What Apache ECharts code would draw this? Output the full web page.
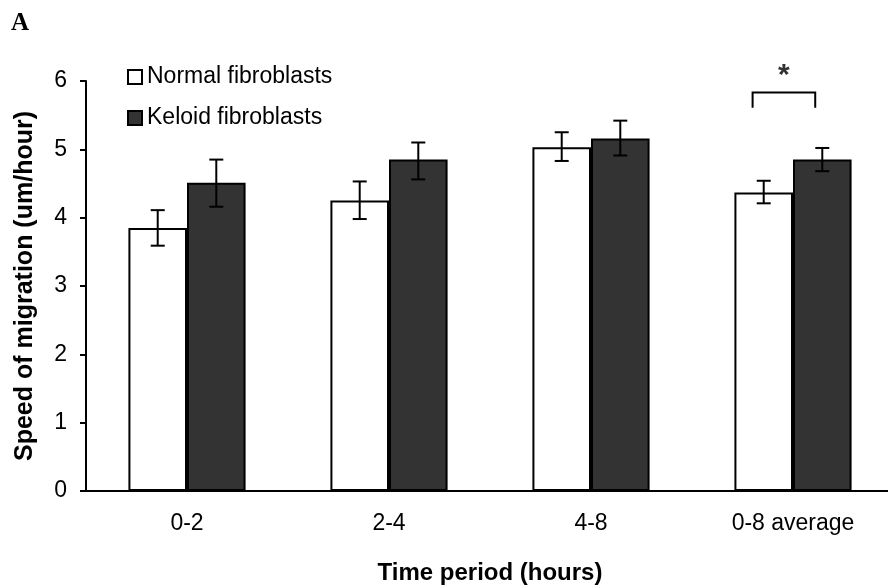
<!DOCTYPE html>
<html>
<head>
<meta charset="utf-8">
<script src="https://cdn.jsdelivr.net/npm/echarts@6/dist/echarts.min.js"></script>
<style>
  html, body { margin: 0; padding: 0; background: #fff; }
  #chart { width: 888px; height: 586px; }
</style>
</head>
<body>
<div id="chart"></div>
<script>
  // categories and values
  const categories = ['0-2', '2-4', '4-8', '0-8 average'];
  const normalMean = [3.85, 4.25, 5.03, 4.37];
  const normalLow = [3.59, 3.98, 4.83, 4.21];
  const normalHigh = [4.11, 4.53, 5.25, 4.54];
  const keloidMean = [4.51, 4.85, 5.16, 4.85];
  const keloidLow = [4.16, 4.56, 4.91, 4.68];
  const keloidHigh = [4.85, 5.10, 5.42, 5.02];
  // significance bracket over 0-8 average
  const bracketCat = 3;
  const bracketTop = 5.83;
  const bracketFoot = 5.61;
  const starValue = 6.08;

  const font = 'Liberation Sans, Arial, sans-serif';
  const barWidthRatio = 0.29;

  const errData = [];
  categories.forEach((c, i) => {
    errData.push([i, normalLow[i], normalHigh[i], -1]);
    errData.push([i, keloidLow[i], keloidHigh[i], 1]);
  });

  function renderError(params, api) {
    const idx = api.value(0);
    const lo = api.coord([idx, api.value(1)]);
    const hi = api.coord([idx, api.value(2)]);
    const band = api.size([1, 0])[0];
    const x = lo[0] + api.value(3) * band * barWidthRatio / 2;
    const cap = 7;
    const style = { stroke: '#000', lineWidth: 2 };
    return {
      type: 'group',
      children: [
        { type: 'line', shape: { x1: x, y1: hi[1], x2: x, y2: lo[1] }, style },
        { type: 'line', shape: { x1: x - cap, y1: hi[1], x2: x + cap, y2: hi[1] }, style },
        { type: 'line', shape: { x1: x - cap, y1: lo[1], x2: x + cap, y2: lo[1] }, style }
      ]
    };
  }

  function renderBracket(params, api) {
    const top = api.coord([api.value(0), api.value(1)]);
    const foot = api.coord([api.value(0), api.value(2)]);
    const star = api.coord([api.value(0), api.value(3)]);
    const band = api.size([1, 0])[0];
    const x1 = top[0] - band * 0.2;
    const x2 = top[0] + band * 0.11;
    const style = { stroke: '#000', lineWidth: 2, fill: null };
    return {
      type: 'group',
      children: [
        { type: 'polyline', shape: { points: [[x1, foot[1]], [x1, top[1]], [x2, top[1]], [x2, foot[1]]] }, style },
        { type: 'text', x: (x1 + x2) / 2, y: star[1],
          style: { text: '*', fontSize: 30, fontWeight: 'bold', fontFamily: font, fill: '#333', align: 'center', verticalAlign: 'middle' } }
      ]
    };
  }

  const chart = echarts.init(document.getElementById('chart'));
  chart.setOption({
    backgroundColor: '#fff',
    animation: false,
    graphic: [
      { type: 'text', left: 11, top: 11, style: { text: 'A', fontSize: 25, fontWeight: 'bold', fontFamily: 'Liberation Serif, serif', fill: '#000' } }
    ],
    grid: { left: 86, width: 808, top: 81, bottom: 95, containLabel: false, outerBoundsMode: 'none' },
    legend: {
      orient: 'vertical',
      left: 122,
      top: 60,
      itemGap: 17,
      itemWidth: 14,
      itemHeight: 14,
      icon: 'rect',
      textStyle: { fontFamily: font, fontSize: 23, color: '#000', lineHeight: 24 },
      data: ['Normal fibroblasts', 'Keloid fibroblasts']
    },
    xAxis: {
      type: 'category',
      data: categories,
      axisLine: { lineStyle: { color: '#000', width: 2 } },
      axisTick: { length: 8, lineStyle: { color: '#000', width: 2 } },
      axisLabel: { fontFamily: font, fontSize: 23, color: '#000', margin: 21 },
      name: 'Time period (hours)',
      nameLocation: 'middle',
      nameGap: 70,
      nameTextStyle: { fontFamily: font, fontSize: 24, fontWeight: 'bold', color: '#000' }
    },
    yAxis: {
      type: 'value',
      min: 0,
      max: 6,
      interval: 1,
      splitLine: { show: false },
      axisLine: { show: true, lineStyle: { color: '#000', width: 2 } },
      axisTick: { show: true, length: 6, lineStyle: { color: '#000', width: 2 } },
      axisLabel: { fontFamily: font, fontSize: 23, color: '#000', margin: 19 },
      name: 'Speed of migration (um/hour)',
      nameLocation: 'middle',
      nameGap: 48,
      nameTextStyle: { fontFamily: font, fontSize: 25, fontWeight: 'bold', color: '#000' }
    },
    series: [
      {
        name: 'Normal fibroblasts',
        type: 'bar',
        data: normalMean,
        barWidth: '29%',
        barGap: '0%',
        itemStyle: { color: '#fff', borderColor: '#000', borderWidth: 2 }
      },
      {
        name: 'Keloid fibroblasts',
        type: 'bar',
        data: keloidMean,
        barWidth: '29%',
        barGap: '0%',
        itemStyle: { color: '#333333', borderColor: '#000', borderWidth: 2 }
      },
      {
        type: 'custom',
        renderItem: renderError,
        data: errData,
        z: 5,
        clip: false
      },
      {
        type: 'custom',
        renderItem: renderBracket,
        data: [[bracketCat, bracketTop, bracketFoot, starValue]],
        z: 5,
        clip: false
      }
    ]
  });
</script>
</body>
</html>
